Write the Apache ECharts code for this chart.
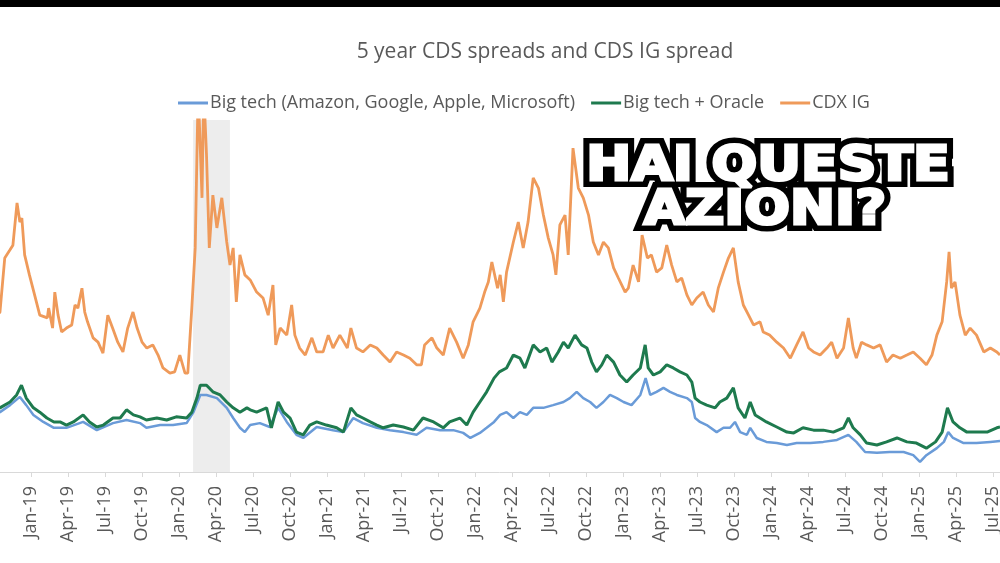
<!DOCTYPE html>
<html>
<head>
<meta charset="utf-8">
<script src="https://cdn.jsdelivr.net/npm/echarts@6/dist/echarts.min.js"></script>
<style>
html,body{margin:0;padding:0;background:#fff;}
#c{width:1000px;height:563px;}
</style>
</head>
<body>
<div id="c"></div>
<script>
// ---------- data (bps) ----------
const monthNames = ['Jan','Feb','Mar','Apr','May','Jun','Jul','Aug','Sep','Oct','Nov','Dec'];
const seriesNames = ['Big tech (Amazon, Google, Apple, Microsoft)', 'Big tech + Oracle', 'CDX IG'];

const cdxDates = ['2018-10-01','2018-10-16','2018-10-28','2018-11-10','2018-11-17','2018-11-27','2018-12-04','2018-12-09','2018-12-16','2018-12-28',
'2019-01-10','2019-01-23','2019-02-10','2019-02-13','2019-02-22','2019-02-27','2019-03-07','2019-03-16','2019-03-28','2019-04-10','2019-04-18','2019-04-25',
'2019-05-05','2019-05-12','2019-05-19','2019-06-02','2019-06-14','2019-06-26','2019-07-08','2019-07-20','2019-08-02','2019-08-15','2019-08-27','2019-09-09',
'2019-09-19','2019-10-01','2019-10-13','2019-10-28','2019-11-10','2019-11-22','2019-12-09','2019-12-21','2020-01-03','2020-01-16','2020-01-23','2020-02-02',
'2020-02-10','2020-02-17','2020-02-26','2020-03-01','2020-03-08','2020-03-15','2020-03-24','2020-04-03','2020-04-15','2020-04-27','2020-05-05','2020-05-13',
'2020-05-21','2020-05-30','2020-06-11','2020-06-24','2020-07-10','2020-07-26','2020-08-08','2020-08-20','2020-08-27','2020-09-07','2020-09-23','2020-10-05',
'2020-10-13','2020-10-25','2020-11-08','2020-11-24','2020-12-06','2020-12-22','2021-01-04','2021-01-16','2021-02-02','2021-02-19','2021-02-27','2021-03-13',
'2021-03-29','2021-04-16','2021-05-02','2021-05-18','2021-06-04','2021-06-20','2021-07-07','2021-07-23','2021-08-09','2021-08-21','2021-08-29','2021-09-16',
'2021-09-28','2021-10-14','2021-10-30','2021-11-16','2021-12-02','2021-12-15','2021-12-27','2022-01-13','2022-01-25','2022-02-03','2022-02-11','2022-02-24',
'2022-03-02','2022-03-10','2022-03-18','2022-04-04','2022-04-16','2022-04-28','2022-05-10','2022-05-23','2022-06-05','2022-06-17','2022-06-29','2022-07-11',
'2022-07-18','2022-07-28','2022-08-10','2022-08-18','2022-08-30','2022-09-12','2022-09-24','2022-10-07','2022-10-19','2022-11-01','2022-11-13','2022-11-25',
'2022-12-08','2022-12-20','2023-01-06','2023-01-14','2023-01-26','2023-02-08','2023-02-16','2023-02-28','2023-03-10','2023-03-23','2023-04-05','2023-04-17',
'2023-04-29','2023-05-12','2023-05-24','2023-06-06','2023-06-18','2023-06-30','2023-07-16','2023-07-29','2023-08-11','2023-08-23','2023-09-05','2023-09-17',
'2023-09-29','2023-10-11','2023-10-24','2023-11-06','2023-11-18','2023-12-04','2023-12-12','2023-12-28','2024-01-15','2024-02-01','2024-02-17','2024-03-03',
'2024-03-19','2024-04-02','2024-04-14','2024-04-30','2024-05-17','2024-05-29','2024-06-11','2024-06-27','2024-07-09','2024-07-21','2024-07-29','2024-08-11',
'2024-08-24','2024-09-10','2024-09-26','2024-10-12','2024-10-28','2024-11-15','2024-12-01','2024-12-17','2025-01-03','2025-01-19','2025-02-02','2025-02-13',
'2025-02-25','2025-03-08','2025-03-14','2025-03-20','2025-03-29','2025-04-10','2025-04-23','2025-05-05','2025-05-21','2025-06-08','2025-06-24','2025-07-10','2025-07-18'];
const cdxValues = [58.9,60.9,74.7,76.8,78.0,88.8,83.9,84.9,75.5,70.4,
65.3,60.1,59.4,61.9,56.8,66.0,60.1,55.8,56.8,57.6,62.7,61.9,
67.0,60.9,58.4,54.3,53.2,50.4,60.1,56.8,53.2,50.7,56.8,60.9,
56.8,53.2,51.7,52.5,49.9,46.6,45.3,45.6,49.9,45.3,45.3,61.9,
77.3,118,90.1,118,101.1,77.3,90.8,82.4,90.1,78.8,72.9,77.3,
63.5,75.5,70.4,69.1,66.0,64.5,60.1,67.8,52.5,56.8,55.0,62.7,
55.0,51.7,49.9,54.3,50.7,50.7,55.0,51.7,55.0,51.7,56.8,51.7,
50.7,52.5,51.7,49.9,48.1,50.7,49.9,49.1,47.4,47.4,52.5,54.3,
51.7,49.9,56.8,53.2,49.1,52.5,58.4,61.9,66.0,68.6,73.7,67.0,
70.4,63.5,71.1,78.8,83.9,77.3,83.9,95.2,92.6,85.7,79.8,75.5,
70.4,83.2,85.7,75.5,102.8,92.6,90.1,85.7,78.8,75.5,78.8,77.3,
72.2,69.6,66.0,67.0,72.9,68.6,80.6,74.7,75.5,71.1,72.2,78.0,
72.9,68.6,69.6,65.3,62.7,64.5,66.0,62.7,60.9,67.0,71.1,74.7,
77.3,68.6,62.7,60.1,57.6,58.4,55.8,55.0,53.2,51.7,49.1,52.5,
55.8,51.7,50.7,49.9,51.7,53.2,49.1,51.7,59.4,51.7,49.1,53.2,
52.5,51.7,52.5,48.1,49.9,49.1,49.9,50.7,49.1,47.4,49.9,55.0,
58.4,68.6,76.3,67.0,68.6,60.1,55.0,56.8,55.0,50.7,51.7,50.7,49.9];

const oracleDates = ['2018-10-01','2018-10-16','2018-11-10','2018-11-26','2018-12-08','2018-12-20','2019-01-07','2019-01-23','2019-02-09','2019-02-25',
'2019-03-12','2019-03-28','2019-04-14','2019-05-08','2019-05-24','2019-06-11','2019-06-27','2019-07-21','2019-08-08','2019-08-24','2019-09-10','2019-09-26',
'2019-10-12','2019-11-07','2019-12-01','2019-12-25','2020-01-20','2020-02-02','2020-02-14','2020-02-22','2020-03-08','2020-03-24','2020-04-11','2020-04-27',
'2020-05-13','2020-05-30','2020-06-16','2020-06-24','2020-07-10','2020-08-04','2020-08-16','2020-09-02','2020-09-15','2020-10-01','2020-10-17','2020-11-03',
'2020-11-19','2020-12-06','2020-12-30','2021-01-25','2021-02-10','2021-02-27','2021-03-13','2021-03-29','2021-04-16','2021-05-02','2021-05-18','2021-06-12',
'2021-07-07','2021-08-01','2021-08-25','2021-09-20','2021-10-14','2021-10-30','2021-11-24','2021-12-11','2021-12-27','2022-01-13','2022-01-30','2022-02-16',
'2022-02-28','2022-03-18','2022-04-04','2022-04-20','2022-05-02','2022-05-23','2022-06-09','2022-06-25','2022-07-08','2022-07-24','2022-08-06','2022-08-18',
'2022-09-04','2022-09-20','2022-10-03','2022-10-15','2022-10-27','2022-11-09','2022-11-21','2022-12-08','2022-12-24','2023-01-10','2023-01-26','2023-02-12',
'2023-02-23','2023-03-02','2023-03-15','2023-04-01','2023-04-17','2023-05-03','2023-05-20','2023-06-06','2023-06-18','2023-06-26','2023-07-08','2023-07-25',
'2023-08-15','2023-08-27','2023-09-13','2023-09-29','2023-10-11','2023-10-28','2023-11-10','2023-11-22','2023-12-04','2023-12-20','2024-01-15','2024-02-09',
'2024-02-25','2024-03-19','2024-04-14','2024-05-08','2024-06-02','2024-06-27','2024-07-09','2024-07-21','2024-08-08','2024-08-24','2024-09-18','2024-10-12',
'2024-11-07','2024-12-01','2024-12-25','2025-01-19','2025-02-10','2025-02-25','2025-03-10','2025-03-24','2025-04-10','2025-04-27','2025-05-21','2025-06-16',
'2025-07-10','2025-07-18'];
const oracleValues = [35.9,36.4,37.9,39.7,42.2,38.9,36.4,35.3,33.8,32.8,
32.8,32.0,32.8,34.6,32.8,31.5,32.0,33.8,33.8,35.9,34.6,34.1,
33.3,33.8,33.3,34.1,33.8,35.3,38.9,42.2,42.2,40.5,39.7,37.9,
36.4,35.3,36.4,35.9,35.3,36.4,31.3,37.9,35.3,33.8,30.2,29.5,
32.0,32.8,32.0,31.3,30.2,36.4,34.6,33.8,32.8,32.0,31.3,32.0,
31.5,30.7,33.8,32.8,31.3,32.8,33.8,32.0,35.3,37.9,40.5,44.0,
45.6,46.6,49.9,49.1,46.6,52.5,50.7,51.7,48.1,50.7,53.2,51.7,
55.0,52.5,51.7,48.1,45.6,47.4,49.9,48.1,44.8,43.0,44.8,46.6,
52.5,46.6,44.8,45.6,47.4,46.6,45.6,44.8,43.0,38.9,37.9,37.1,
36.4,37.9,38.9,41.5,36.4,33.8,37.9,34.6,33.8,32.8,31.5,30.2,
30.0,31.3,30.7,30.7,30.2,31.3,33.8,31.3,29.5,27.4,26.9,27.7,
28.7,27.7,27.4,26.1,27.7,30.2,36.4,32.8,31.3,30.2,30.2,30.2,
31.3,31.5];

const techDates = ['2018-10-01','2018-10-16','2018-11-10','2018-12-04','2018-12-20','2019-01-07','2019-02-01','2019-02-25','2019-03-28','2019-05-08',
'2019-06-11','2019-07-21','2019-08-24','2019-09-26','2019-10-12','2019-11-15','2019-12-17','2020-01-20','2020-02-06','2020-02-22','2020-03-08','2020-04-03',
'2020-04-27','2020-05-13','2020-05-30','2020-06-11','2020-06-24','2020-07-18','2020-08-12','2020-09-02','2020-09-23','2020-10-17','2020-11-03','2020-12-06',
'2021-01-16','2021-02-10','2021-03-05','2021-03-29','2021-05-02','2021-06-04','2021-07-07','2021-08-09','2021-09-03','2021-10-06','2021-11-08','2021-12-02',
'2021-12-20','2022-01-13','2022-01-30','2022-02-16','2022-03-02','2022-03-18','2022-04-04','2022-04-20','2022-05-07','2022-05-23','2022-06-17','2022-07-11',
'2022-08-06','2022-08-22','2022-09-08','2022-09-24','2022-10-11','2022-10-27','2022-11-13','2022-11-29','2022-12-16','2023-01-02','2023-01-22','2023-02-12',
'2023-02-24','2023-03-07','2023-03-23','2023-04-09','2023-04-25','2023-05-12','2023-06-06','2023-06-18','2023-06-26','2023-07-08','2023-07-25','2023-08-19',
'2023-09-05','2023-09-21','2023-10-03','2023-10-16','2023-11-02','2023-11-10','2023-11-26','2023-12-20','2024-01-15','2024-02-09','2024-03-03','2024-04-06',
'2024-05-08','2024-06-11','2024-07-09','2024-07-29','2024-08-20','2024-09-18','2024-10-20','2024-11-23','2024-12-17','2025-01-03','2025-01-19','2025-02-13',
'2025-03-01','2025-03-12','2025-03-24','2025-04-19','2025-05-21','2025-06-24','2025-07-18'];
const techValues = [34.8,35.3,37.1,39.2,37.1,34.6,32.8,31.3,31.3,32.8,
30.7,32.5,33.3,32.5,31.3,32.0,32.0,32.5,35.3,39.7,39.7,38.9,
36.4,33.8,31.3,30.2,32.0,32.5,31.5,36.4,32.8,29.5,28.7,31.5,
30.7,30.2,33.8,32.5,31.3,30.7,30.2,29.5,31.3,30.7,30.7,30.0,
28.7,30.0,31.3,32.8,34.6,35.3,33.8,35.3,34.6,36.4,36.4,37.1,
37.9,38.9,40.5,38.9,37.9,36.4,37.9,39.7,38.9,37.9,37.1,39.7,
44.0,39.7,40.5,41.5,40.5,39.7,38.9,37.9,33.8,32.8,32.0,30.2,
31.3,31.3,32.8,30.2,29.5,31.3,28.7,27.7,27.4,26.9,27.4,27.4,
27.7,28.2,29.5,27.7,25.1,24.9,25.1,25.1,24.3,22.6,24.3,26.1,
27.7,30.2,28.7,27.4,27.4,27.7,27.9];

const shadeStart = '2020-02-05';
const shadeEnd = '2020-05-05';
const axisEnd = '2025-07-18';
const overlayLines = ['HAI QUESTE', 'AZIONI?'];

// ---------- helpers ----------
function monthIndex(s) {
  const p = s.split('-').map(Number);
  const dim = new Date(p[0], p[1], 0).getDate();
  return (p[0] - 2018) * 12 + (p[1] - 10) + (p[2] - 1) / dim;
}
function pairs(dates, vals) { return dates.map((d, i) => [monthIndex(d), vals[i]]); }
function monthLabel(v) {
  if (Math.abs(v - Math.round(v)) > 1e-6) return '';
  const k = Math.round(v) + 9;
  return monthNames[k % 12] + '-' + (18 + Math.floor(k / 12));
}

const chart = echarts.init(document.getElementById('c'), null, {renderer: 'canvas'});
const txt = '#595959';
const font = '"Open Sans", "Noto Sans", sans-serif';
const bigFont = 'bold 48px "DejaVu Sans"';

function overlay(text, x, y) {
  return [
    {type: 'text', x: x, y: y, z: 100, scaleX: 1.12,
     style: {text: text, fill: '#000', stroke: '#000', lineWidth: 14, lineJoin: 'round', miterLimit: 1,
             font: bigFont, textAlign: 'center', textVerticalAlign: 'middle'}},
    {type: 'text', x: x, y: y, z: 101, scaleX: 1.12,
     style: {text: text, fill: '#fff', stroke: '#fff', lineWidth: 3, lineJoin: 'round', miterLimit: 1,
             font: bigFont, textAlign: 'center', textVerticalAlign: 'middle'}}
  ];
}

chart.setOption({
  animation: false,
  backgroundColor: '#ffffff',
  title: {
    text: '5 year CDS spreads and CDS IG spread',
    left: 540, top: 37, textAlign: 'center',
    textStyle: {color: txt, fontSize: 21, fontWeight: 'normal', fontFamily: font}
  },
  legend: {
    left: 173, top: 89,
    itemWidth: 30, itemHeight: 3, itemGap: 16,
    icon: 'rect',
    textStyle: {color: txt, fontSize: 18, fontFamily: font, padding: [0, 0, 0, -3]},
    data: seriesNames
  },
  grid: {left: -6, right: 0, top: 120, bottom: 91, containLabel: false, outerBoundsMode: 'none'},
  xAxis: {
    type: 'value',
    min: 0, max: monthIndex(axisEnd), interval: 3,
    axisLine: {show: true, lineStyle: {color: '#d9d9d9', width: 1}},
    axisTick: {show: true, length: 5, lineStyle: {color: '#d9d9d9'}},
    splitLine: {show: false},
    axisLabel: {
      rotate: 90, margin: 14, color: txt, fontSize: 18, fontFamily: font,
      showMinLabel: true, showMaxLabel: false, hideOverlap: false,
      formatter: monthLabel
    }
  },
  yAxis: {
    type: 'value', min: 20, max: 110,
    show: false, splitLine: {show: false}
  },
  series: [
    {
      name: seriesNames[0], type: 'line', showSymbol: false, symbol: 'none',
      data: pairs(techDates, techValues),
      lineStyle: {color: '#6A9BD8', width: 2.5}, itemStyle: {color: '#6A9BD8'},
      z: 3,
      markArea: {
        silent: true,
        itemStyle: {color: 'rgba(222,222,222,0.55)'},
        data: [[{xAxis: monthIndex(shadeStart)}, {xAxis: monthIndex(shadeEnd)}]]
      }
    },
    {
      name: seriesNames[1], type: 'line', showSymbol: false, symbol: 'none',
      data: pairs(oracleDates, oracleValues),
      lineStyle: {color: '#1E7A4E', width: 3}, itemStyle: {color: '#1E7A4E'},
      z: 4
    },
    {
      name: seriesNames[2], type: 'line', showSymbol: false, symbol: 'none',
      data: pairs(cdxDates, cdxValues),
      lineStyle: {color: '#EF9A5A', width: 2.8}, itemStyle: {color: '#EF9A5A'},
      z: 2
    }
  ],
  graphic: [
    {type: 'rect', left: 0, top: 0, z: 100, shape: {width: 1000, height: 7}, style: {fill: '#000'}}
  ].concat(overlay(overlayLines[0], 768, 168), overlay(overlayLines[1], 765, 212))
});
</script>
</body>
</html>
